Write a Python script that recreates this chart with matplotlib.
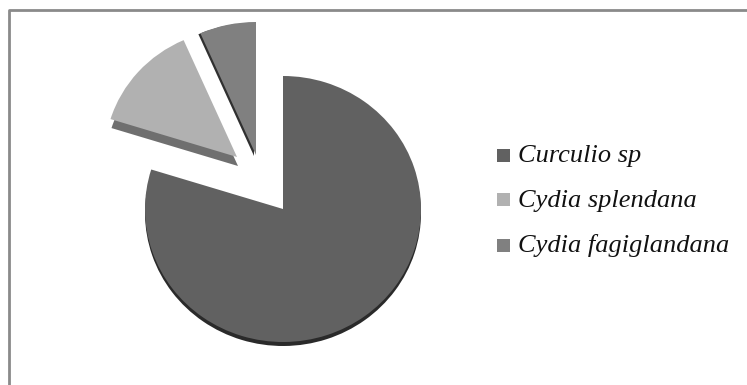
import matplotlib
matplotlib.use('Agg')
import matplotlib.pyplot as plt
from matplotlib.lines import Line2D
from matplotlib.patches import Rectangle

# Species shares (percent)
species = ['Curculio sp', 'Cydia splendana', 'Cydia fagiglandana']
shares = [79.8, 13.6, 6.6]
colors = ['#616161', '#b1b1b1', '#808080']
side_colors = ['#2a2a2a', '#6f6f6f', '#303030']

W, H = 747, 385
fig = plt.figure(figsize=(W / 100, H / 100), dpi=100)
ax = fig.add_axes([0, 0, 1, 1])

# pixel sizes of the pie
rx, ry = 138, 133
cx, cy = 283, 211
# where each slice's point sits, in pixels
apex = [(283, 209), (237, 157), (256, 155)]
radius = [1, 0.96, 1]
# extrusion of each slice, in pixels
depth = [(0, 4), (1, 9), (-2, 1)]


def to_data(p):
    return (p[0] - cx) / rx, (cy - p[1]) / ry


# side walls first, then the faces on top
sides, _ = ax.pie(shares, colors=side_colors, startangle=90, counterclock=False, frame=True)
faces, _ = ax.pie(shares, colors=colors, startangle=90, counterclock=False, frame=True)
ax.set_aspect('auto')
ax.set_xlim(-cx / rx, (W - cx) / rx)
ax.set_ylim(-(H - cy) / ry, cy / ry)
ax.axis('off')

for i in range(len(shares)):
    faces[i].set_center(to_data(apex[i]))
    sides[i].set_center(to_data((apex[i][0] + depth[i][0], apex[i][1] + depth[i][1])))
    for w, z in ((faces[i], 3), (sides[i], 2)):
        w.set_radius(radius[i])
        w.set_linewidth(0)
        w.set_zorder(z)

# the frame: only the top and left edges show
frame_x = [8.5 / W, 8.5 / W, 1]
frame_y = [0, 1 - 9.5 / H, 1 - 9.5 / H]
fig.add_artist(Line2D(frame_x, frame_y, color='#8a8a8a', linewidth=2, transform=fig.transFigure))

# legend
legend_y = [155, 199, 245]
baselines = [162, 207, 252]
for name, col, y, b in zip(species, colors, legend_y, baselines):
    ax.add_patch(Rectangle((497 / W, 1 - (y + 6.5) / H), 13 / W, 13 / H, transform=fig.transFigure,
                           facecolor=col, edgecolor='none', clip_on=False))
    fig.text(518 / W, 1 - b / H, name, family='Liberation Serif', style='italic', fontsize=19,
             va='baseline', ha='left', color='#111111')

fig.savefig('out.png', dpi=100)
